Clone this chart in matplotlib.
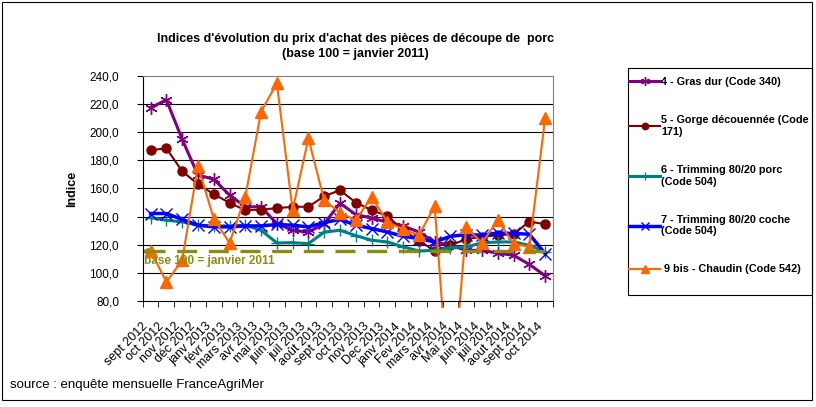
import numpy as np
import matplotlib
matplotlib.use('Agg')
import matplotlib.pyplot as plt
from matplotlib.patches import Rectangle
from matplotlib.transforms import Bbox, TransformedBbox

plt.rcParams['font.family'] = ['Liberation Sans', 'DejaVu Sans']

mois = ['sept 2012', 'oct 2012', 'nov 2012', 'déc 2012', 'janv 2013', 'févr 2013',
        'mars 2013', 'avr 2013', 'mai 2013', 'juin 2013', 'juil 2013', 'août 2013',
        'sept 2013', 'oct 2013', 'nov 2013', 'Dec 2013', 'janv 2014', 'Fev 2014',
        'mars 2014', 'avr 2014', 'Mai 2014', 'juin 2014', 'juil 2014', 'aout 2014',
        'sept 2014', 'oct 2014']

gras_dur = [217.4, 223.0, 195.0, 169.5, 166.6, 155.3, 147.0, 147.0, 135.0, 130.3,
            129.0, 135.0, 149.5, 141.5, 139.0, 136.0, 133.4, 129.0, 122.0, 119.6,
            116.0, 116.0, 114.0, 112.5, 106.0, 98.0]
gorge = [187.3, 188.5, 172.3, 163.0, 156.0, 149.8, 144.6, 145.0, 146.0, 147.0,
         147.0, 154.5, 158.8, 150.0, 144.6, 140.5, 130.3, 123.0, 115.6, 119.6,
         124.0, 125.6, 126.8, 127.5, 136.5, 134.6]
trimming_porc = [139.3, 137.4, 136.3, 133.9, 133.4, 133.4, 133.9, 130.3, 121.3, 121.5,
                 120.8, 129.0, 130.3, 126.5, 123.2, 122.0, 118.5, 115.6, 116.0, 118.0,
                 118.5, 121.3, 122.0, 122.0, 119.6, 115.0]
trimming_coche = [142.2, 142.2, 138.0, 133.9, 132.7, 132.7, 133.4, 133.4, 134.4, 133.9,
                  132.7, 135.8, 138.0, 134.0, 131.5, 129.1, 126.0, 124.4, 122.0, 126.0,
                  127.2, 126.8, 128.4, 128.0, 127.5, 113.7]
chaudin = [115.6, 93.5, 109.0, 176.0, 138.6, 121.3, 154.0, 214.6, 234.8, 144.6,
           195.6, 151.7, 142.8, 137.4, 154.0, 136.3, 131.0, 126.8, 147.4, 0.0,
           132.7, 121.3, 137.4, 120.8, 118.5, 209.9]
base_ref = 115.5

x = np.arange(len(mois))

fig = plt.figure(figsize=(8.16, 4.07), dpi=100)
ax = fig.add_axes([0.1749, 0.2604, 0.5028, 0.553])

l1, = ax.plot(x, gras_dur, color='#800080', lw=2.2, marker=(6, 2, 0), ms=9, mew=1,
              label='4 - Gras dur (Code 340)')
l2, = ax.plot(x, gorge, color='#800000', lw=1.5, marker='o', ms=6.5,
              label='5 - Gorge découennée (Code\n171)')
l3, = ax.plot(x, trimming_porc, color='#008080', lw=2.2, marker='+', ms=8, mew=1,
              label='6 - Trimming 80/20 porc\n(Code 504)')
l4, = ax.plot(x, trimming_coche, color='#0000ff', lw=2.5, marker='x', ms=8, mew=1,
              label='7 - Trimming 80/20 coche\n(Code 504)')
l5, = ax.plot(x, chaudin, color='#ff6600', lw=1.5, marker='^', ms=8,
              label=' 9 bis - Chaudin (Code 542)')
# la ligne orange déborde un peu sous l'axe comme dans Excel
l5.set_clip_box(TransformedBbox(Bbox([[0, -0.031], [1, 1]]), ax.transAxes))

# ligne de base
olive = '#8c8c14'
ax.plot([-0.35, 25.5], [base_ref, base_ref], color=olive, lw=2.4, dashes=(6, 3.5))
ax.plot([-0.38], [base_ref], color=olive, marker='<', ms=5)
ax.text(-0.42, base_ref - 2.8, 'base 100 = janvier 2011', color=olive, fontsize=8.5,
        fontweight='bold', va='top', ha='left')

ax.set_xlim(-0.5, len(mois) - 0.5)
ax.set_ylim(80, 240)
ax.set_yticks(np.arange(80, 241, 20))
ax.yaxis.set_major_formatter(plt.FuncFormatter(lambda v, p: ('%.1f' % v).replace('.', ',')))
ax.tick_params(axis='y', direction='out', length=4, pad=13, labelsize=8.5)
ax.set_xticks(x)
ax.set_xticklabels(mois, rotation=45, ha='right', fontsize=9)
ax.tick_params(axis='x', which='major', length=0, pad=14)
ax.set_xticks(np.arange(-0.5, len(mois), 1), minor=True)
ax.tick_params(axis='x', which='minor', direction='out', length=4)

for v in range(100, 240, 20):
    ax.axhline(v, color='black', lw=0.8, zorder=0)
ax.spines['top'].set_color('#808080')
ax.spines['right'].set_color('#808080')

ax.set_ylabel('Indice', fontsize=9, fontweight='bold', labelpad=8)

fig.text(0.4357, 0.886, "Indices d'évolution du prix d'achat des pièces de découpe de  porc\n(base 100 = janvier 2011)",
         ha='center', va='center', fontsize=9, fontweight='bold', linespacing=1.3)

# légende
fig.add_artist(Rectangle((627.7 / 816, 1 - 295 / 407), 184 / 816, 227 / 407,
                         transform=fig.transFigure, fill=False, edgecolor='black', lw=0.8))
leg = fig.legend(handles=[l1, l2, l3, l4, l5], loc='upper left',
                 bbox_to_anchor=(629 / 816, 1 - 77 / 407), borderaxespad=0,
                 frameon=False, labelspacing=2.6, handlelength=2.9,
                 handletextpad=0.05, borderpad=0, markerscale=0.7,
                 prop={'weight': 'bold', 'size': 7.8})

fig.text(0.012, 0.055, 'source : enquête mensuelle FranceAgriMer', fontsize=9.5, va='center')

fig.add_artist(Rectangle((0.003, 0.017), 0.992, 0.978, transform=fig.transFigure,
                         fill=False, edgecolor='black', lw=0.8))

fig.savefig('out.png', dpi=100)
